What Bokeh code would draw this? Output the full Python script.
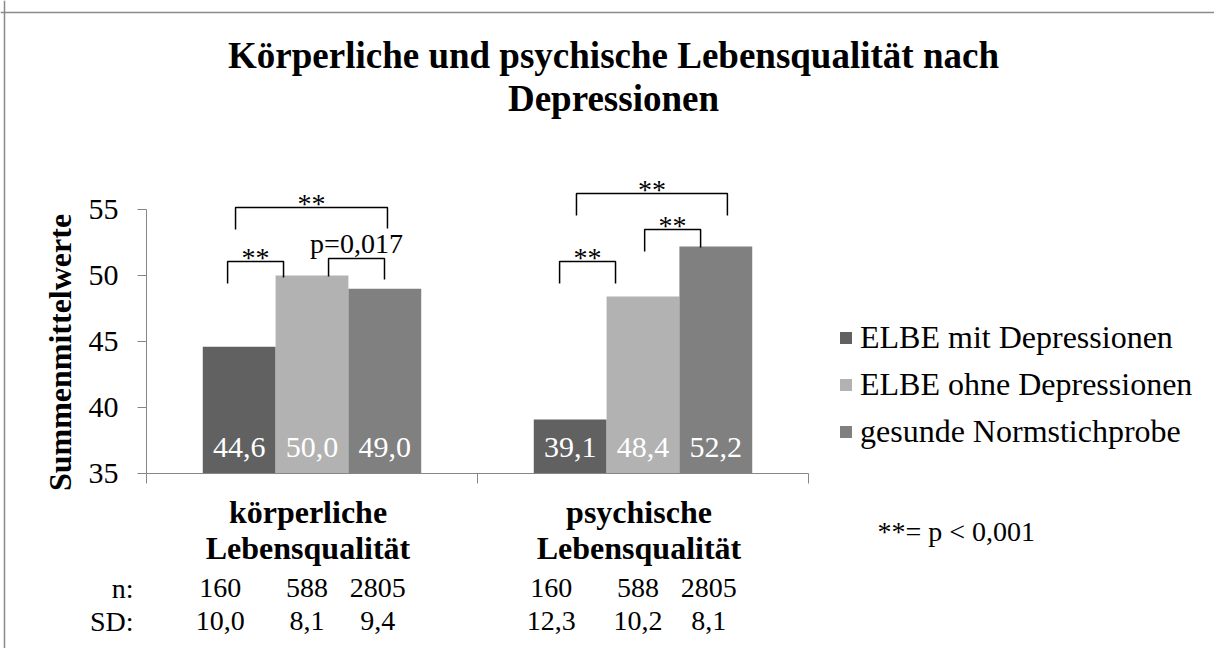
import math
from bokeh.plotting import figure
from bokeh.models import (ColumnDataSource, FixedTicker, Legend, LegendItem, Range1d, Span)
from bokeh.core.properties import value
from bokeh.embed import file_html
from bokeh.resources import INLINE

# ---------------- data ----------------
categories = ["körperliche\nLebensqualität", "psychische\nLebensqualität"]
series_names = ["ELBE mit Depressionen", "ELBE ohne Depressionen", "gesunde Normstichprobe"]
elbe_mit = [44.6, 39.1]
elbe_ohne = [50.0, 48.4]
normstichprobe = [49.0, 52.2]
n_mit = ["160", "160"]
n_ohne = ["588", "588"]
n_norm = ["2805", "2805"]
sd_mit = [10.0, 12.3]
sd_ohne = [8.1, 10.2]
sd_norm = [9.4, 8.1]
y_ticks = [35, 40, 45, 50, 55]
row_labels = ["n:", "SD:"]
title_lines = ["Körperliche und psychische Lebensqualität nach", "Depressionen"]
y_title = "Summenmittelwerte"
note_text = "**= p < 0,001"

# significance brackets (category index, legs relative to category start, heights)
br_cat = [0, 0, 0, 1, 1, 1]
br_left = [0.245, 0.550, 0.269, 0.248, 0.505, 0.299]
br_right = [0.414, 0.719, 0.728, 0.417, 0.674, 0.755]
br_top = [51.06, 51.29, 55.15, 51.06, 53.48, 56.21]
br_left_end = [49.39, 49.92, 53.48, 49.39, 51.82, 54.55]
br_right_end = [49.85, 49.70, 53.56, 49.39, 52.12, 54.55]
br_text = ["**", "p=0,017", "**", "**", "**", "**"]

# ---------------- layout / style ----------------
SERIF = "Liberation Serif"
colors = ["#616161", "#b2b2b2", "#808080"]
axis_gray = "#868686"
W, H = 1214, 648
X0_PX, PX_PER_X = 146, 331.0      # canvas px of x=0, px per category
Y35_PX, PX_PER_Y = 473, 13.2      # canvas px of y=35, px per unit
bar_w = 0.22
offsets = [-0.22, 0.0, 0.22]
col_shift = [-19, -5, -7]


def px_x(px):
    return (px - X0_PX) / PX_PER_X


def px_y(py):
    return 35 + (Y35_PX - py) / PX_PER_Y


def de(v):
    return f"{v:.1f}".replace(".", ",")


p = figure(width=W, height=H, x_range=Range1d(px_x(0), px_x(W)),
           y_range=Range1d(px_y(H), px_y(0)),
           output_backend="svg", toolbar_location=None,
           min_border=0, min_border_left=0, min_border_right=0,
           min_border_top=0, min_border_bottom=0)
p.outline_line_color = None
p.xgrid.visible = False
p.ygrid.visible = False
p.background_fill_color = "white"
p.border_fill_color = "white"

# chart-area border (top and left edges)
p.add_layout(Span(location=px_y(12), dimension="width", line_color="#8a8a8a", line_width=1.5))
p.add_layout(Span(location=px_x(4), dimension="height", line_color="#8a8a8a", line_width=1.5))

series_vals = [elbe_mit, elbe_ohne, normstichprobe]
n_cols = [n_mit, n_ohne, n_norm]
sd_cols = [sd_mit, sd_ohne, sd_norm]
renderers = []
all_x, all_vals, n_txt, sd_txt, shifts = [], [], [], [], []
for i, vals in enumerate(series_vals):
    xs = [c + 0.5 + offsets[i] for c in range(len(categories))]
    src = ColumnDataSource(dict(x=xs, top=vals))
    r = p.vbar(x="x", top="top", bottom=35, width=bar_w, source=src,
               fill_color=colors[i], line_color=None)
    renderers.append(r)
    for c in range(len(categories)):
        all_x.append(xs[c])
        all_vals.append(de(vals[c]))
        n_txt.append(n_cols[i][c])
        sd_txt.append(de(sd_cols[i][c]))
        shifts.append(col_shift[i])

# value labels inside bars
p.text(x=all_x, y=[35] * len(all_x), text=all_vals, text_color="white",
       text_font=value(SERIF), text_font_size="30px", text_align="center",
       text_baseline="middle", y_offset=-26)

# significance brackets
bxs, bys, tx, ty = [], [], [], []
for k in range(len(br_cat)):
    x0 = br_cat[k] + br_left[k]
    x1 = br_cat[k] + br_right[k]
    bxs.append([x0, x0, x1, x1])
    bys.append([br_left_end[k], br_top[k], br_top[k], br_right_end[k]])
    tx.append((x0 + x1) / 2)
    lift = 4.5 if br_text[k] == "**" else 14.5
    ty.append(br_top[k] + lift / PX_PER_Y)
p.multi_line(xs=bxs, ys=bys, line_color="black", line_width=1.5)
p.text(x=tx, y=ty, text=br_text, text_font=value(SERIF),
       text_font_size="28px", text_align="center", text_baseline="middle",
       text_color="black")

# axes (fixed at the origin of the bar area)
yax = p.yaxis[0]
yax.fixed_location = 0
yax.ticker = FixedTicker(ticks=y_ticks)
yax.bounds = (35, 55)
yax.axis_line_color = axis_gray
yax.major_tick_line_color = axis_gray
yax.major_tick_out = 9
yax.major_tick_in = 0
yax.minor_tick_line_color = None
yax.major_label_text_font = SERIF
yax.major_label_text_font_size = "30px"
yax.major_label_text_color = "black"
yax.major_label_standoff = 19

cat_centers = [c + 0.5 for c in range(len(categories))]
xax = p.xaxis[0]
xax.fixed_location = 35
xax.bounds = (0, len(categories))
xax.ticker = FixedTicker(ticks=cat_centers, minor_ticks=list(range(len(categories) + 1)))
xax.major_label_overrides = {c: "" for c in cat_centers}
xax.major_label_text_font_size = "0px"
xax.axis_line_color = axis_gray
xax.major_tick_line_color = None
xax.major_tick_out = 0
xax.major_tick_in = 0
xax.minor_tick_line_color = axis_gray
xax.minor_tick_out = 10
xax.minor_tick_in = 0

# category names (two lines each) under the axis
for line_no, py in enumerate([511, 547]):
    p.text(x=cat_centers, y=[px_y(py)] * len(cat_centers),
           text=[cat.split("\n")[line_no] for cat in categories], x_offset=-4,
           text_font=value(SERIF), text_font_size="32px", text_font_style="bold",
           text_align="center", text_baseline="middle", text_color="black")

# y-axis title (rotated)
p.text(x=[px_x(59)], y=[px_y(352)], text=[y_title], angle=math.pi / 2,
       text_font=value(SERIF), text_font_size="32px", text_font_style="bold",
       text_align="center", text_baseline="middle", text_color="black")

# n / SD rows under the categories
n_y, sd_y = px_y(587.5), px_y(620.5)
p.text(x=all_x, y=[n_y] * len(all_x), text=n_txt, x_offset=shifts,
       text_font=value(SERIF), text_font_size="28px", text_align="center",
       text_baseline="middle", text_color="black")
p.text(x=all_x, y=[sd_y] * len(all_x), text=sd_txt, x_offset=shifts,
       text_font=value(SERIF), text_font_size="28px", text_align="center",
       text_baseline="middle", text_color="black")
p.text(x=[px_x(133)] * 2, y=[n_y, sd_y], text=row_labels,
       text_font=value(SERIF), text_font_size="28px", text_align="right",
       text_baseline="middle", text_color="black")

# title
p.text(x=[px_x(613)] * 2, y=[px_y(55.4), px_y(98.4)], text=title_lines,
       text_font=value(SERIF), text_font_size="37px", text_font_style="bold",
       text_align="center", text_baseline="middle", text_color="black")

# note
p.text(x=[px_x(877)], y=[px_y(530.5)], text=[note_text],
       text_font=value(SERIF), text_font_size="28px", text_align="left",
       text_baseline="middle", text_color="black")

# legend
legend = Legend(items=[LegendItem(label=series_names[i], renderers=[renderers[i]])
                       for i in range(3)],
                location=(838, H - 450), orientation="vertical",
                label_text_font=SERIF, label_text_font_size="32px",
                label_text_color="black", glyph_width=15, glyph_height=15,
                label_standoff=7, spacing=10, padding=0, margin=0,
                border_line_color=None, background_fill_alpha=0)
p.add_layout(legend, "center")

open("out.html", "w").write(file_html(p, INLINE))
